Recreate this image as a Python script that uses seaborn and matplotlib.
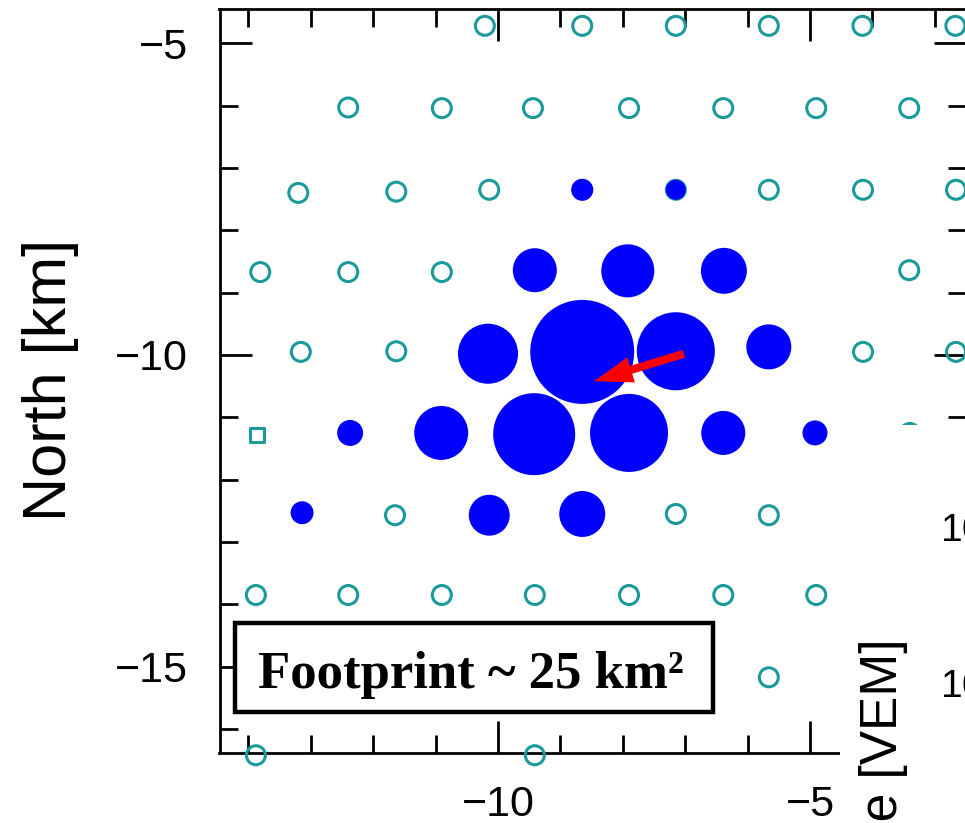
import numpy as np
import pandas as pd
import matplotlib
matplotlib.use("Agg")
import matplotlib.pyplot as plt
from matplotlib.patches import Rectangle
from matplotlib.ticker import MultipleLocator
import seaborn as sns

# ---------------- data ----------------
# stations without signal (open circles): east / north [km]
off_east = [-10.21, -8.65, -7.15, -5.66, -4.16, -2.67,
            -12.40, -10.90, -9.44, -7.90, -6.39, -4.90, -3.41,
            -13.20, -11.63, -10.14, -7.15, -5.66, -4.15, -2.66,
            -13.81, -12.40, -10.90, -3.41,
            -13.16, -11.63, -4.15, -2.66,
            -3.40,
            -11.65, -7.15, -5.66,
            -13.88, -12.40, -10.90, -9.41, -7.90, -6.39, -4.90,
            -13.14, -11.65, -10.14, -8.65, -7.15, -5.66,
            -13.88, -9.41]
off_north = [-4.72, -4.72, -4.72, -4.72, -4.72, -4.72,
             -6.03, -6.04, -6.04, -6.04, -6.04, -6.04, -6.04,
             -7.40, -7.38, -7.35, -7.35, -7.35, -7.35, -7.35,
             -8.67, -8.67, -8.67, -8.64,
             -9.95, -9.94, -9.95, -9.95,
             -11.25,
             -12.57, -12.55, -12.57,
             -13.85, -13.85, -13.85, -13.85, -13.85, -13.85, -13.85,
             -15.17, -15.17, -15.17, -15.17, -15.17, -15.17,
             -16.42, -16.42]
# special station (open square)
sq_east = [-13.86]
sq_north = [-11.28]

# triggered stations (filled blue), signal [VEM]
on_east = [-8.65, -7.15,
           -9.41, -7.92, -6.38,
           -10.16, -8.65, -7.15, -5.66,
           -12.37, -10.91, -9.42, -7.90, -6.39, -4.92,
           -13.14, -10.14, -8.65]
on_north = [-7.35, -7.35,
            -8.64, -8.65, -8.65,
            -9.98, -9.95, -9.94, -9.87,
            -11.25, -11.25, -11.27, -11.25, -11.25, -11.25,
            -12.53, -12.57, -12.55]
on_signal = [39, 32,
             155, 225, 169,
             288, 865, 487, 162,
             54, 233, 538, 487, 155, 50,
             42, 134, 169]

# shower axis projection (tail -> head) [km]
axis_tail = (-7.02, -9.98)
axis_head = (-8.46, -10.42)

footprint_text = "Footprint ~ 25 km\u00b2"

# ---------------- style ----------------
teal = "#1a9a9a"
blue = "#0000ff"

sns.set_style("ticks")
plt.rcParams["font.family"] = ["Liberation Sans", "DejaVu Sans"]
plt.rcParams["axes.unicode_minus"] = True
plt.rcParams["text.color"] = "black"
plt.rcParams["axes.labelcolor"] = "black"
plt.rcParams["xtick.color"] = "black"
plt.rcParams["ytick.color"] = "black"
plt.rcParams["axes.edgecolor"] = "black"

fig = plt.figure(figsize=(9.65, 8.23), dpi=100)
ax = fig.add_axes([219.5 / 965, 70 / 823, 746.5 / 965, 743.7 / 823])

df_off = pd.DataFrame({"east": off_east, "north": off_north})
sns.scatterplot(data=df_off, x="east", y="north", ax=ax, marker="o", s=187,
                facecolors="none", edgecolor=teal, linewidth=2.2,
                legend=False, clip_on=False, zorder=3)
df_sq = pd.DataFrame({"east": sq_east, "north": sq_north})
sns.scatterplot(data=df_sq, x="east", y="north", ax=ax, marker="s", s=100,
                facecolors="none", edgecolor=teal, linewidth=2.2,
                legend=False, clip_on=False, zorder=3)

df_on = pd.DataFrame({"east": on_east, "north": on_north, "signal": on_signal})
sns.scatterplot(data=df_on, x="east", y="north", size="signal",
                sizes=(0, 6480), size_norm=(0, 1000), color=blue,
                edgecolor="none", linewidth=0, legend=False, ax=ax,
                clip_on=False, zorder=4)

ax.arrow(axis_tail[0], axis_tail[1],
         axis_head[0] - axis_tail[0], axis_head[1] - axis_tail[1],
         width=0.13, head_width=0.42, head_length=0.62,
         length_includes_head=True, fc="red", ec="red", lw=0, zorder=5)

ax.set_xlim(-14.463, -2.50)
ax.set_ylim(-16.384, -4.455)

ax.xaxis.set_major_locator(MultipleLocator(5))
ax.xaxis.set_minor_locator(MultipleLocator(1))
ax.yaxis.set_major_locator(MultipleLocator(5))
ax.yaxis.set_minor_locator(MultipleLocator(1))
ax.tick_params(which="both", direction="in", top=True, right=True,
               width=2, labelsize=31, pad=23, colors="black")
ax.tick_params(which="major", length=23)
ax.tick_params(which="minor", length=13)
for s in ax.spines.values():
    s.set_linewidth(2)
    s.set_color("black")

ax.set_xlabel("")
ax.set_ylabel("North [km]", fontsize=44, color="black")
ax.yaxis.set_label_coords(-0.188, 0.5015)

# footprint annotation box
ax.add_patch(Rectangle((-14.215, -15.727), 7.661, 1.428, fc="white",
                       ec="black", lw=3.2, zorder=6, clip_on=False))
ax.text(-10.43, -15.342, footprint_text, fontfamily="Liberation Serif",
        fontweight="bold", fontsize=38, ha="center", va="baseline",
        color="black", zorder=7)

# overlapping neighbour panel (lower right)
fig.add_artist(Rectangle((840 / 965, 0), 0.2, 398 / 823,
                         transform=fig.transFigure, fc="white", ec="none",
                         zorder=1))
ax2 = fig.add_axes([1030 / 965, 0, 0.3, 398 / 823])
ax2.set_zorder(2)
ax2.set_yscale("log")
ax2.set_ylim(1.266, 451)
ax2.set_xticks([])
ax2.tick_params(axis="y", which="both", direction="in", labelsize=28, pad=22,
                colors="black")
ax2.set_ylabel("Signal size [VEM]", fontsize=37, ha="right", color="black")
ax2.yaxis.set_label_coords(-0.4214, 0.4648)

fig.savefig("out.png", dpi=100)
